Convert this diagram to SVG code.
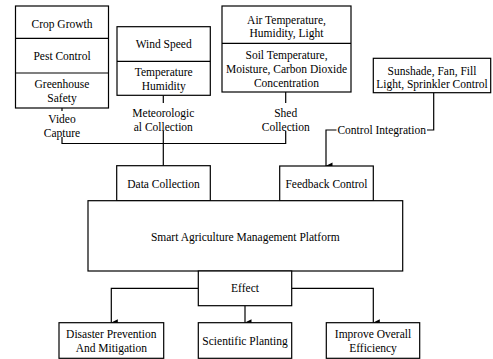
<svg xmlns="http://www.w3.org/2000/svg" width="493" height="359" viewBox="0 0 493 359">
<style>
rect{fill:#fff;stroke:#000;stroke-width:1.2}
line,path.c{stroke:#000;stroke-width:1.2;fill:none}
text{font-family:"Liberation Serif","Times New Roman",serif;font-size:11.5px;fill:#000;text-anchor:middle}
</style>
<defs>
<marker id="ah" markerWidth="8" markerHeight="8" refX="4" refY="7" orient="auto-start-reverse" markerUnits="userSpaceOnUse" viewBox="0 0 8 8">
<path d="M0.5,0.5 L4,7.5 L7.5,0.5 Z" fill="#000"/>
</marker>
</defs>
<g id="connectors">
<path class="c" d="M62,108 V111"/>
<path class="c" d="M62,137 V143.5 H285.7 V131"/>
<path class="c" d="M285.7,92 V103"/>
<path class="c" d="M163.3,95.3 V103"/>
<path class="c" d="M163.3,131 V165.7"/>
<path class="c" d="M433.7,92.7 V130 H427"/>
<path class="c" d="M336.5,130 H326 V166" marker-end="url(#ah)"/>
<path class="c" d="M198.3,288.3 H111.3 V322.7" marker-end="url(#ah)"/>
<path class="c" d="M291.7,288.3 H373.3 V322.7" marker-end="url(#ah)"/>
<path class="c" d="M245,305.7 V322.7" marker-end="url(#ah)"/>
<text x="62" y="123">Video</text>
<text x="62" y="137">Capture</text>
<text x="163.3" y="117">Meteorologic</text>
<text x="163.3" y="131">al Collection</text>
<text x="285.7" y="117">Shed</text>
<text x="285.7" y="131">Collection</text>
<text x="381.7" y="134">Control Integration</text>
</g>
<g id="video-stack">
<rect x="15.5" y="6" width="93" height="102"/>
<line x1="15.5" y1="38.3" x2="108.5" y2="38.3"/>
<line x1="15.5" y1="73" x2="108.5" y2="73"/>
<text x="62" y="28">Crop Growth</text>
<text x="62" y="60">Pest Control</text>
<text x="62" y="88">Greenhouse</text>
<text x="62" y="102">Safety</text>
</g>
<g id="meteo-stack">
<rect x="117" y="26.7" width="93.3" height="68.6"/>
<line x1="117" y1="61.3" x2="210.3" y2="61.3"/>
<text x="163.7" y="48">Wind Speed</text>
<text x="163.7" y="76">Temperature</text>
<text x="163.7" y="90">Humidity</text>
</g>
<g id="shed-stack">
<rect x="222" y="6" width="129" height="86"/>
<line x1="222" y1="43.3" x2="351" y2="43.3"/>
<text x="286.5" y="24">Air Temperature,</text>
<text x="286.5" y="37">Humidity, Light</text>
<text x="286.5" y="58.5">Soil Temperature,</text>
<text x="286.5" y="73">Moisture, Carbon Dioxide</text>
<text x="286.5" y="87">Concentration</text>
</g>
<g id="control-box">
<rect x="373.3" y="58.3" width="117.4" height="34.4"/>
<text x="432" y="75">Sunshade, Fan, Fill</text>
<text x="432" y="87.5">Light, Sprinkler Control</text>
</g>
<g id="data-collection">
<rect x="116.7" y="165.7" width="93.6" height="35"/>
<text x="163.5" y="188">Data Collection</text>
</g>
<g id="feedback-control">
<rect x="279.7" y="166" width="93.6" height="35"/>
<text x="326.5" y="188">Feedback Control</text>
</g>
<g id="platform">
<rect x="88" y="200.7" width="314.7" height="70.3"/>
<text x="245.3" y="240.7">Smart Agriculture Management Platform</text>
</g>
<g id="effect">
<rect x="198.3" y="271" width="93.4" height="34.7"/>
<text x="245" y="292.3">Effect</text>
</g>
<g id="disaster">
<rect x="59" y="322.7" width="104.7" height="35.6"/>
<text x="111.3" y="338">Disaster Prevention</text>
<text x="111.3" y="351.7">And Mitigation</text>
</g>
<g id="scientific">
<rect x="198.3" y="322.7" width="93.4" height="35.6"/>
<text x="245" y="345">Scientific Planting</text>
</g>
<g id="improve">
<rect x="326.3" y="322.7" width="93.4" height="35.6"/>
<text x="373" y="338">Improve Overall</text>
<text x="373" y="351.7">Efficiency</text>
</g>
</svg>
